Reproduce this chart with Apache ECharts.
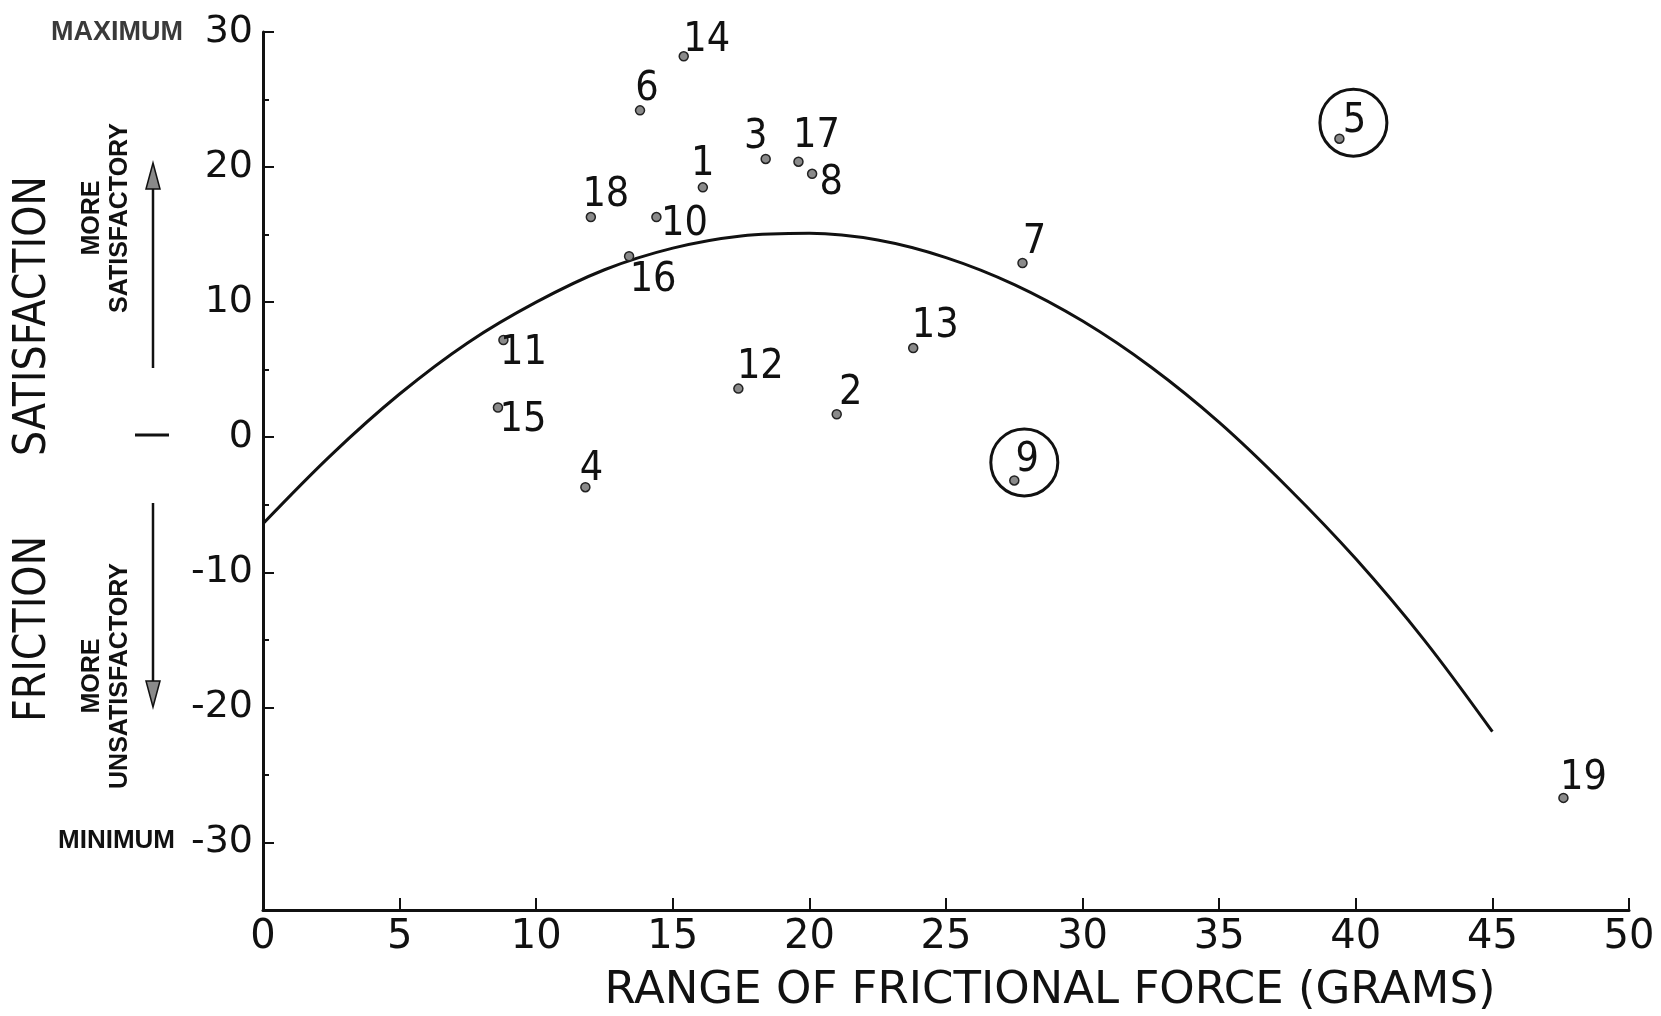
<!DOCTYPE html>
<html>
<head>
<meta charset="utf-8">
<title>Friction satisfaction vs range of frictional force</title>
<script src="https://cdn.jsdelivr.net/npm/echarts@6/dist/echarts.min.js"></script>
<style>
  html, body { margin: 0; padding: 0; background: #fff; }
  #chart { width: 1661px; height: 1016px; }
</style>
</head>
<body>
<div id="chart"></div>
<script>
// subjects: range of frictional force (grams) vs satisfaction rating
const pointIds = ['1', '2', '3', '4', '5', '6', '7', '8', '9', '10',
                  '11', '12', '13', '14', '15', '16', '17', '18', '19'];
const rangeGrams = [16.1, 21.0, 18.4, 11.8, 39.4, 13.8, 27.8, 20.1, 27.5, 14.4,
                    8.8, 17.4, 23.8, 15.4, 8.6, 13.4, 19.6, 12.0, 47.6];
const satisfaction = [18.5, 1.7, 20.6, -3.7, 22.1, 24.2, 12.9, 19.5, -3.2, 16.3,
                      7.2, 3.6, 6.6, 28.2, 2.2, 13.4, 20.4, 16.3, -26.7];
// subjects that are ringed in the figure
const circledIds = ['5', '9'];

// fitted curve
const curveX = [0, 2.5, 5, 7.5, 10, 12.5, 15, 17.5, 20, 22.5, 25, 27.5, 30, 32.5, 35, 37.5, 40, 42.5, 45];
const curveY = [-6.4, -1.3, 3.2, 7.0, 10.0, 12.4, 14.0, 14.9, 15.1, 14.6, 13.3, 11.3, 8.6, 5.2, 1.1, -3.7, -9.0, -15.0, -21.8];

const yLabelTicks = [-30, -20, -10, 0, 10, 20, 30];

// where each number sits next to its dot (px)
const labelNudge = {
  '1': [0, -23], '2': [14, -21], '3': [-10, -22], '4': [6, -18], '5': [15, -17],
  '6': [7, -21], '7': [12, -21], '8': [19, 10], '9': [13, -20], '10': [28, 7],
  '11': [20, 13], '12': [22, -21], '13': [22, -22], '14': [23, -16], '15': [25, 13],
  '16': [24, 24], '17': [18, -25], '18': [15, -22], '19': [20, -20]
};
const ringNudge = { '5': [14, -16], '9': [10, -18] };

const INK = '#111';
const plainFont = "'DejaVu Sans', sans-serif";
const narrowFont = "'Liberation Sans Narrow', 'DejaVu Sans Condensed', 'Liberation Sans', sans-serif";
const boldFont = "'Liberation Sans', Arial, sans-serif";

const myChart = echarts.init(document.getElementById('chart'));

const dots = pointIds.map((id, i) => ({
  value: [rangeGrams[i], satisfaction[i]],
  label: { offset: labelNudge[id] }
}));

const rings = circledIds.map(id => {
  const i = pointIds.indexOf(id);
  return { value: [rangeGrams[i], satisfaction[i]], symbolOffset: ringNudge[id] };
});

const option = {
  animation: false,
  backgroundColor: '#fff',
  grid: { left: 263, right: 32, top: 32, bottom: 106, outerBoundsMode: 'none' },
  xAxis: {
    type: 'value',
    min: 0,
    max: 50,
    interval: 5,
    axisLine: { onZero: false, lineStyle: { color: INK, width: 3 } },
    axisTick: { inside: true, length: 12, lineStyle: { color: INK, width: 2 } },
    axisLabel: { color: INK, fontSize: 40, fontFamily: plainFont, margin: 8 },
    splitLine: { show: false }
  },
  yAxis: [
    {
      type: 'value',
      min: -35,
      max: 30,
      interval: 5,
      axisLine: { onZero: false, lineStyle: { color: INK, width: 3 } },
      axisTick: { inside: true, length: 11, customValues: yLabelTicks, lineStyle: { color: INK, width: 2 } },
      axisLabel: {
        color: INK, fontSize: 38, fontFamily: plainFont, margin: 10,
        customValues: yLabelTicks,
        formatter: v => (v % 10 === 0 ? String(v) : '')
      },
      splitLine: { show: false }
    },
    {
      // short intermediate ticks every 5
      type: 'value',
      min: -35,
      max: 30,
      interval: 5,
      position: 'left',
      axisLine: { show: false, onZero: false },
      axisTick: { inside: true, length: 6, lineStyle: { color: INK, width: 2 } },
      axisLabel: { show: false },
      splitLine: { show: false }
    }
  ],
  series: [
    {
      name: 'curve',
      type: 'line',
      data: curveX.map((x, i) => [x, curveY[i]]),
      smooth: 0.35,
      showSymbol: false,
      silent: true,
      lineStyle: { color: INK, width: 3 },
      z: 2
    },
    {
      name: 'subjects',
      type: 'scatter',
      data: dots,
      symbol: 'circle',
      symbolSize: 9,
      itemStyle: { color: '#8a8a8a', borderColor: '#222', borderWidth: 1.5, opacity: 1 },
      label: {
        show: true,
        position: 'inside',
        align: 'center',
        verticalAlign: 'middle',
        formatter: p => pointIds[p.dataIndex],
        color: INK,
        fontSize: 41,
        fontFamily: narrowFont
      },
      z: 3
    },
    {
      name: 'ringed',
      type: 'scatter',
      data: rings,
      symbol: 'circle',
      symbolSize: 67,
      silent: true,
      itemStyle: { color: 'rgba(0,0,0,0)', borderColor: INK, borderWidth: 3, opacity: 1 },
      z: 1
    }
  ],
  graphic: [
    // big axis titles
    {
      type: 'text', x: 34, y: 316, rotation: Math.PI / 2,
      style: { text: 'SATISFACTION', fontSize: 44, fontFamily: narrowFont, fill: INK, align: 'center', verticalAlign: 'middle' }
    },
    {
      type: 'text', x: 34, y: 629, rotation: Math.PI / 2,
      style: { text: 'FRICTION', fontSize: 44, fontFamily: narrowFont, fill: INK, align: 'center', verticalAlign: 'middle' }
    },
    {
      type: 'text', x: 106, y: 218, rotation: Math.PI / 2,
      style: { text: 'MORE\nSATISFACTORY', fontSize: 25, fontWeight: 'bold', lineHeight: 28, fontFamily: boldFont, fill: INK, align: 'center', verticalAlign: 'middle' }
    },
    {
      type: 'text', x: 106, y: 676, rotation: Math.PI / 2,
      style: { text: 'MORE\nUNSATISFACTORY', fontSize: 25, fontWeight: 'bold', lineHeight: 28, fontFamily: boldFont, fill: INK, align: 'center', verticalAlign: 'middle' }
    },
    {
      type: 'text', x: 183, y: 33,
      style: { text: 'MAXIMUM', fontSize: 27, fontWeight: 'bold', fontFamily: boldFont, fill: '#3a3a3a', align: 'right', verticalAlign: 'middle' }
    },
    {
      type: 'text', x: 175, y: 841,
      style: { text: 'MINIMUM', fontSize: 26, fontWeight: 'bold', fontFamily: boldFont, fill: INK, align: 'right', verticalAlign: 'middle' }
    },
    // arrows
    { type: 'line', shape: { x1: 153, y1: 368, x2: 153, y2: 186 }, style: { stroke: INK, lineWidth: 2.5 } },
    { type: 'polygon', shape: { points: [[153, 163], [146, 189], [160, 189]] }, style: { fill: '#8a8a8a', stroke: INK, lineWidth: 1.5 } },
    { type: 'line', shape: { x1: 153, y1: 503, x2: 153, y2: 684 }, style: { stroke: INK, lineWidth: 2.5 } },
    { type: 'polygon', shape: { points: [[153, 707], [146, 681], [160, 681]] }, style: { fill: '#8a8a8a', stroke: INK, lineWidth: 1.5 } },
    { type: 'line', shape: { x1: 135, y1: 435, x2: 169, y2: 435 }, style: { stroke: INK, lineWidth: 3 } },
    // x axis title
    {
      type: 'text', x: 1050, y: 991,
      style: { text: 'RANGE OF FRICTIONAL FORCE (GRAMS)', fontSize: 45, fontFamily: plainFont, fill: INK, align: 'center', verticalAlign: 'middle' }
    }
  ]
};

myChart.setOption(option);
</script>
</body>
</html>
